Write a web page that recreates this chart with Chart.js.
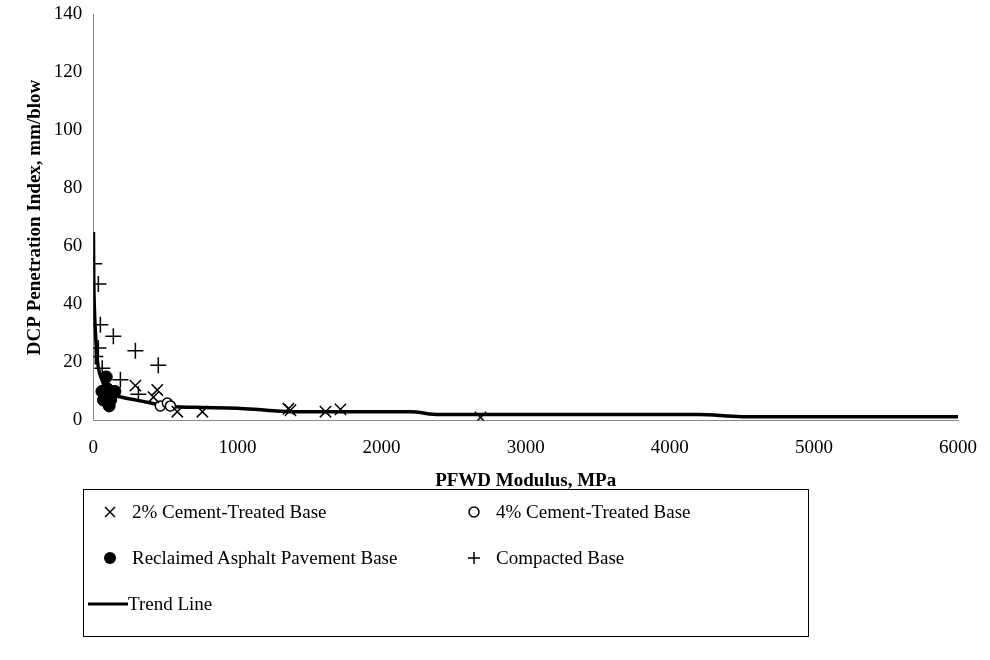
<!DOCTYPE html>
<html><head><meta charset="utf-8">
<script src="https://cdn.jsdelivr.net/npm/chart.js@4"></script>
<style>
body{margin:0;background:#fff;font-family:"Liberation Serif",serif;}
#wrap{position:absolute;left:0;top:0;width:990px;height:492px;}
#legend{position:absolute;left:83px;top:489px;width:724px;height:146px;border:1px solid #000;font-size:19px;}
.it{position:absolute;display:flex;align-items:center;}
.it svg{margin-right:14px;}
</style></head><body>
<div id="wrap"><canvas id="c"></canvas></div>
<div id="legend">
 <div class="it" style="left:18px;top:11px"><svg width="16" height="16"><path d="M3 3L13 13M13 3L3 13" stroke="#000" stroke-width="1.5"/></svg>2% Cement-Treated Base</div>
 <div class="it" style="left:382px;top:11px"><svg width="16" height="16"><circle cx="8" cy="8" r="5" fill="none" stroke="#000" stroke-width="1.5"/></svg>4% Cement-Treated Base</div>
 <div class="it" style="left:18px;top:57px"><svg width="16" height="16"><circle cx="8" cy="8" r="6" fill="#000"/></svg>Reclaimed Asphalt Pavement Base</div>
 <div class="it" style="left:382px;top:57px"><svg width="16" height="16"><path d="M8 2V14M2 8H14" stroke="#000" stroke-width="1.5"/></svg>Compacted Base</div>
 <div class="it" style="left:4px;top:103px"><svg width="40" height="16" style="margin-right:0"><path d="M0 8H40" stroke="#000" stroke-width="3"/></svg>Trend Line</div>
</div>
<script>
const ctCement2 = [[292,12],[444,10.5],[417,8],[583,3],[757,3],[1354,4],[1368,3.5],[1611,3],[1715,3.8],[2687,1]];
const ctCement4 = [[465,5],[514,6],[535,5]];
const rapBase = [[90,15],[60,10],[80,9],[100,8],[120,7],[110,5],[150,10],[70,7],[130,9],[95,11]];
const compacted = [[7,54],[35,47],[49,33],[139,29],[35,25],[14,22],[292,24],[451,19],[188,14],[313,9],[62,18]];
const trend = [[1,65],[3,50],[8,38],[15,30],[30,20],[60,14],[100,10],[200,8],[300,7],[400,6],[500,5],[700,4.5],[1000,4.2],[1200,3.5],[1400,3],[2200,3],[2400,2],[4200,2],[4500,1.3],[6000,1.3]];
const xTicks = [0,1000,2000,3000,4000,5000,6000];

Chart.defaults.font.family = 'Liberation Serif';
const pts = a => a.map(p => ({x:p[0], y:p[1]}));
const font = {family:'Liberation Serif', size:19};
new Chart(document.getElementById('c'), {
  type:'scatter',
  data:{datasets:[
    {data:pts(ctCement2), pointStyle:'crossRot', radius:8, borderColor:'#000', borderWidth:1.5},
    {data:pts(ctCement4), pointStyle:'circle', radius:5, borderColor:'#000', backgroundColor:'#fff', borderWidth:1.5},
    {data:pts(rapBase), pointStyle:'circle', radius:6, borderColor:'#000', backgroundColor:'#000'},
    {data:pts(compacted), pointStyle:'cross', radius:8, borderColor:'#000', borderWidth:1.5},
    {data:pts(trend), showLine:true, pointRadius:0, borderColor:'#000', borderWidth:3.5, cubicInterpolationMode:'monotone'}
  ]},
  options:{
    responsive:true, maintainAspectRatio:false, animation:false,
    layout:{padding:{top:8,right:32,left:20}},
    plugins:{legend:{display:false}, tooltip:{enabled:false}},
    scales:{
      x:{type:'linear', min:0, max:6000, grid:{display:false, tickLength:8}, border:{color:'#888'},
         afterBuildTicks:s=>{s.ticks = xTicks.map(v=>({value:v}));},
         ticks:{color:'#000', font:font, padding:8, callback:v=>String(v)},
         title:{display:true, text:'PFWD Modulus, MPa', color:'#000', font:{...font, weight:'bold'}, padding:{top:2, bottom:0}}},
      y:{min:0, max:140, grid:{display:false, tickLength:8}, border:{color:'#888'},
         ticks:{stepSize:20, color:'#000', font:font},
         title:{display:true, text:'DCP Penetration Index, mm/blow', color:'#000', font:{...font, weight:'bold'}}}
    }
  }
});
</script>
</body></html>
